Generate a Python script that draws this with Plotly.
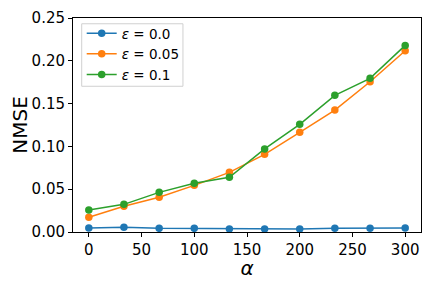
import plotly.graph_objects as go

alpha = [0, 33.3, 66.7, 100, 133.3, 166.7, 200, 233.3, 266.7, 300]
nmse_eps_0 = [0.0047, 0.0055, 0.0043, 0.0043, 0.0036, 0.0036, 0.0035, 0.0045, 0.0045, 0.0047]
nmse_eps_005 = [0.0172, 0.0300, 0.0405, 0.0545, 0.0697, 0.0907, 0.1164, 0.1425, 0.1755, 0.2117]
nmse_eps_01 = [0.0257, 0.0323, 0.0463, 0.0569, 0.0639, 0.0970, 0.1258, 0.1597, 0.1795, 0.2180]
labels = ["<i>ε</i> = 0.0", "<i>ε</i> = 0.05", "<i>ε</i> = 0.1"]
colors = ["#1f77b4", "#ff7f0e", "#2ca02c"]

fig = go.Figure()
for ys, lab, c in zip([nmse_eps_0, nmse_eps_005, nmse_eps_01], labels, colors):
    fig.add_trace(go.Scatter(x=alpha, y=ys, mode="lines+markers", name=lab,
                             line=dict(color=c, width=1.5),
                             marker=dict(color=c, size=7.5)))

axis_common = dict(showgrid=False, zeroline=False, showline=True, linecolor="black",
                   linewidth=1, mirror=True, ticks="outside", ticklen=4, tickcolor="black",
                   automargin=False,
                   tickfont=dict(family="DejaVu Sans", size=15, color="black"))

# legend frame drawn as a light box (matplotlib-style)
fig.add_shape(type="rect", xref="paper", yref="paper",
              x0=0.025, x1=0.316, y0=0.681, y1=0.973,
              line=dict(color="#d0d0d0", width=1), fillcolor="rgba(255,255,255,0.8)",
              layer="above")

fig.update_layout(
    width=416, height=272,
    margin=dict(l=65, r=3, t=9.5, b=48),
    paper_bgcolor="white", plot_bgcolor="white",
    font=dict(family="DejaVu Sans", color="black"),
    xaxis=dict(range=[-15, 315], tickvals=[0, 50, 100, 150, 200, 250, 300],
               title=dict(text="<i>α</i>", font=dict(size=20)), **axis_common),
    yaxis=dict(range=[0, 0.25], tickvals=[0, 0.05, 0.10, 0.15, 0.20, 0.25], tickformat=".2f",
               title=dict(text="NMSE", font=dict(size=20)), **axis_common),
    legend=dict(x=0.025, y=1.0, xanchor="left", yanchor="top",
                bgcolor="rgba(0,0,0,0)", borderwidth=0,
                font=dict(size=13.5), itemwidth=30, tracegroupgap=0),
    showlegend=True,
)

fig.write_html("out.html")
